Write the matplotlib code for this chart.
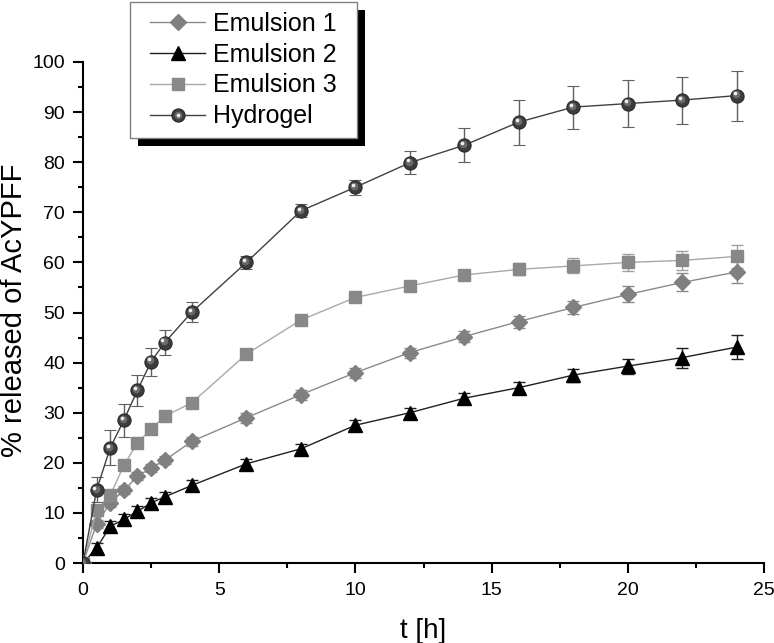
import matplotlib
matplotlib.use("Agg")
import matplotlib.pyplot as plt
import matplotlib.transforms as mtransforms
from matplotlib.legend_handler import HandlerTuple
from matplotlib.ticker import MultipleLocator
from matplotlib.patches import Rectangle

plt.rcParams['font.family'] = ['Liberation Sans', 'DejaVu Sans']

t = [0, 0.5, 1, 1.5, 2, 2.5, 3, 4, 6, 8, 10, 12, 14, 16, 18, 20, 22, 24]

emulsion1 = [0, 7.8, 12.0, 14.5, 17.3, 19.0, 20.5, 24.3, 29.0, 33.6, 38.0, 42.0, 45.2, 48.2, 51.0, 53.6, 56.0, 58.1]
emulsion1_err = [0, 0.8, 0.8, 0.8, 0.8, 0.8, 0.8, 0.9, 1.0, 1.0, 1.0, 1.0, 1.1, 1.2, 1.3, 1.6, 1.8, 2.3]

emulsion2 = [0, 3.0, 7.3, 8.7, 10.3, 12.0, 13.2, 15.5, 19.8, 22.8, 27.5, 30.0, 32.9, 35.0, 37.5, 39.3, 41.0, 43.1]
emulsion2_err = [0, 1.0, 1.0, 1.0, 1.0, 1.0, 1.0, 1.0, 1.0, 1.0, 1.0, 1.0, 1.0, 1.1, 1.3, 1.5, 2.0, 2.4]

emulsion3 = [0, 10.5, 13.5, 19.5, 24.0, 26.7, 29.3, 32.0, 41.7, 48.5, 53.0, 55.3, 57.5, 58.6, 59.3, 60.0, 60.4, 61.2]
emulsion3_err = [0, 0.8, 0.8, 0.8, 0.8, 0.8, 0.8, 0.8, 0.8, 0.8, 0.8, 0.8, 1.0, 1.2, 1.5, 1.7, 1.9, 2.3]

hydrogel = [0, 14.6, 23.0, 28.5, 34.5, 40.2, 44.0, 50.1, 60.0, 70.3, 75.0, 79.9, 83.4, 88.0, 91.0, 91.7, 92.4, 93.3]
hydrogel_err = [0, 2.5, 3.5, 3.3, 3.1, 2.8, 2.5, 2.0, 1.3, 1.3, 1.5, 2.3, 3.4, 4.5, 4.3, 4.7, 4.7, 5.0]

labels = ['Emulsion 1', 'Emulsion 2', 'Emulsion 3', 'Hydrogel']

W, H = 774, 643
fig = plt.figure(figsize=(W / 100, H / 100), dpi=100)
ax = fig.add_axes([83 / W, 80 / H, (764 - 83) / W, (563 - 62) / H])

cap = 4
ebw = 1.0

e1 = ax.errorbar(t, emulsion1, yerr=emulsion1_err, color='#8a8a8a', lw=1.0,
                 marker='D', ms=8.5, mfc='#808080', mec='#808080',
                 ecolor='#8a8a8a', elinewidth=ebw, capsize=cap, capthick=ebw, zorder=3)
e2 = ax.errorbar(t, emulsion2, yerr=emulsion2_err, color='#202020', lw=1.0,
                 marker='^', ms=10, mfc='black', mec='black',
                 ecolor='#202020', elinewidth=ebw, capsize=cap, capthick=ebw, zorder=3)
e3 = ax.errorbar(t, emulsion3, yerr=emulsion3_err, color='#a8a8a8', lw=1.0,
                 marker='s', ms=8, mfc='#888888', mec='#888888',
                 ecolor='#a0a0a0', elinewidth=ebw, capsize=cap, capthick=ebw, zorder=3)
eh = ax.errorbar(t, hydrogel, yerr=hydrogel_err, color='#404040', lw=1.0,
                 marker='o', ms=9.5, mfc='#3c3c3c', mec='#2a2a2a', mew=0.8,
                 ecolor='#606060', elinewidth=ebw, capsize=cap, capthick=ebw, zorder=4)
# sphere shading highlight
off1 = mtransforms.offset_copy(ax.transData, fig=fig, x=-0.8, y=0.8, units='points')
mid, = ax.plot(t, hydrogel, ls='none', marker='o', ms=5.5, mfc='#6a6a6a', mec='none',
               transform=off1, zorder=5)
off2 = mtransforms.offset_copy(ax.transData, fig=fig, x=-1.6, y=1.6, units='points')
hl, = ax.plot(t, hydrogel, ls='none', marker='o', ms=2.6, mfc='#f0f0f0', mec='none',
              transform=off2, zorder=6)

ax.set_xlim(0, 25)
ax.set_ylim(0, 100)
ax.xaxis.set_major_locator(MultipleLocator(5))
ax.xaxis.set_minor_locator(MultipleLocator(2.5))
ax.yaxis.set_major_locator(MultipleLocator(10))
ax.yaxis.set_minor_locator(MultipleLocator(5))
for s in ['top', 'right']:
    ax.spines[s].set_visible(False)
for s in ['left', 'bottom']:
    ax.spines[s].set_linewidth(1.5)
ax.tick_params(which='major', direction='out', length=7, width=1.5, labelsize=14)
ax.tick_params(axis='x', which='major', pad=6.5)
ax.tick_params(axis='y', which='major', pad=6)
ax.tick_params(which='minor', direction='out', length=3.5, width=1.5)

ax.set_xlabel('t [h]', fontsize=20, labelpad=14)
ax.set_ylabel('% released of AcYPFF', fontsize=21)
ax.yaxis.set_label_coords(-0.081, 0.505)

# legend box with solid black shadow (drawn manually)
bx0, by0, bx1, by1 = 130, 2, 357, 138
sh = 8
fig.add_artist(Rectangle(((bx0 + sh) / W, 1 - (by1 + sh) / H), (bx1 - bx0) / W, (by1 - by0) / H,
                         transform=fig.transFigure, facecolor='black', edgecolor='black',
                         lw=0, zorder=4))
fig.add_artist(Rectangle((bx0 / W, 1 - by1 / H), (bx1 - bx0) / W, (by1 - by0) / H,
                         transform=fig.transFigure, facecolor='white', edgecolor='#808080',
                         lw=1.0, zorder=4.5))

leg_h = fig.legend([e1[0], e2[0], e3[0], (eh[0], mid, hl)], labels,
                   handler_map={tuple: HandlerTuple(ndivide=1)},
                   loc='upper left', bbox_to_anchor=(150 / W, 1 - 12 / H),
                   fontsize=18, frameon=False, borderpad=0,
                   labelspacing=0.27, handlelength=2.2, handletextpad=0.32,
                   borderaxespad=0)
leg_h.set_zorder(5)

fig.savefig('out.png', dpi=100)
